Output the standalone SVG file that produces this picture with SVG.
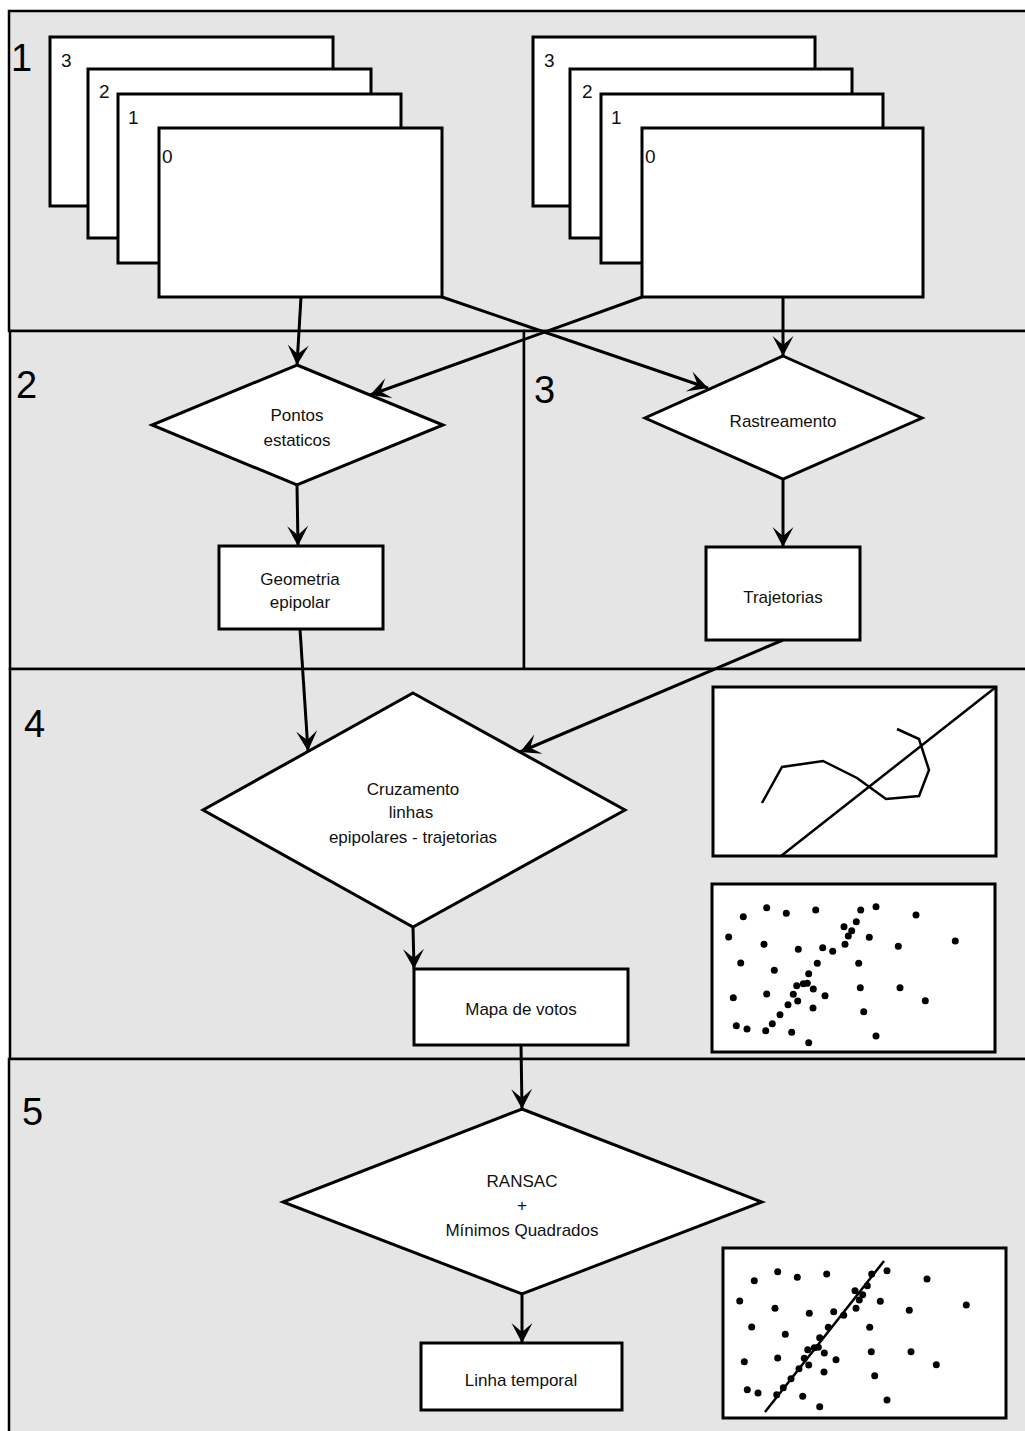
<svg xmlns="http://www.w3.org/2000/svg" xmlns:xlink="http://www.w3.org/1999/xlink" width="1025" height="1431" viewBox="0 0 1025 1431">
<style>
.sec{fill:#e5e5e5;stroke:#000;stroke-width:2.5}
.box{fill:#fff;stroke:#000;stroke-width:3}
.lbl{font-family:"Liberation Sans",Arial,sans-serif;font-size:17px;fill:#111;text-anchor:middle}
.dig{font-family:"Liberation Sans",Arial,sans-serif;font-size:19px;fill:#111}
.num{font-family:"Liberation Sans",Arial,sans-serif;font-size:38px;fill:#000}
.con{fill:none;stroke:#000;stroke-width:3}
.arr{fill:none;stroke:#000;stroke-width:3;marker-end:url(#ah)}
.pl{fill:none;stroke:#000;stroke-width:2.5}
</style>
<defs>
<marker id="ah" markerUnits="userSpaceOnUse" viewBox="-22 -12 24 24" refX="0" refY="0" markerWidth="24" markerHeight="24" orient="auto">
<path d="M0,0 L-20,-10.5 L-11,0 L-20,10.5 Z" fill="#000"/>
</marker>
<g id="dots" fill="#000">
<circle cx="766.7" cy="907.7" r="3.5"/><circle cx="786.3" cy="913.3" r="3.5"/><circle cx="815.7" cy="910" r="3.5"/><circle cx="860.7" cy="910" r="3.5"/><circle cx="876" cy="906.7" r="3.5"/><circle cx="743.3" cy="916.7" r="3.5"/><circle cx="916" cy="915" r="3.5"/><circle cx="856.3" cy="921.7" r="3.5"/><circle cx="844" cy="926.7" r="3.5"/><circle cx="851.7" cy="930.7" r="3.5"/><circle cx="848.3" cy="936" r="3.5"/><circle cx="728.7" cy="937" r="3.5"/><circle cx="869.3" cy="937.3" r="3.5"/><circle cx="764" cy="944.3" r="3.5"/><circle cx="845" cy="944.3" r="3.5"/><circle cx="898.3" cy="946.3" r="3.5"/><circle cx="955.3" cy="941" r="3.5"/><circle cx="798.3" cy="949.3" r="3.5"/><circle cx="822.7" cy="947.7" r="3.5"/><circle cx="832.7" cy="951.3" r="3.5"/><circle cx="740.7" cy="963" r="3.5"/><circle cx="817.3" cy="963.3" r="3.5"/><circle cx="858.7" cy="963.3" r="3.5"/><circle cx="774.3" cy="970.3" r="3.5"/><circle cx="808.7" cy="973.7" r="3.5"/><circle cx="796.7" cy="985.7" r="3.5"/><circle cx="803.3" cy="983.7" r="3.5"/><circle cx="807.3" cy="983.3" r="3.5"/><circle cx="813.3" cy="989" r="3.5"/><circle cx="860.3" cy="987.7" r="3.5"/><circle cx="900" cy="987.7" r="3.5"/><circle cx="733.3" cy="997.7" r="3.5"/><circle cx="766.7" cy="994" r="3.5"/><circle cx="793.3" cy="994.3" r="3.5"/><circle cx="825" cy="995.7" r="3.5"/><circle cx="797.7" cy="1001" r="3.5"/><circle cx="925.3" cy="1000.7" r="3.5"/><circle cx="788" cy="1004.7" r="3.5"/><circle cx="813" cy="1008" r="3.5"/><circle cx="863.7" cy="1011.7" r="3.5"/><circle cx="780" cy="1014.7" r="3.5"/><circle cx="736.3" cy="1025.7" r="3.5"/><circle cx="747" cy="1029" r="3.5"/><circle cx="772.3" cy="1023.7" r="3.5"/><circle cx="765.7" cy="1030.7" r="3.5"/><circle cx="791.7" cy="1032.3" r="3.5"/><circle cx="876" cy="1036" r="3.5"/><circle cx="808.7" cy="1042.7" r="3.5"/>
</g>
</defs>
<rect width="1025" height="1431" fill="#fff"/>

<g id="sections">
<rect class="sec" x="9" y="11" width="1030" height="320"/>
<rect class="sec" x="10" y="331" width="514" height="338"/>
<rect class="sec" x="524" y="331" width="515" height="338"/>
<rect class="sec" x="10" y="669" width="1029" height="390"/>
<rect class="sec" x="9" y="1059" width="1030" height="380"/>
<text class="num" x="11" y="71">1</text>
<text class="num" x="16" y="398">2</text>
<text class="num" x="534" y="403">3</text>
<text class="num" x="24" y="737">4</text>
<text class="num" x="22" y="1125">5</text>
</g>

<g id="frames-left">
<rect class="box" x="50" y="37" width="283" height="169"/>
<text class="dig" x="61" y="67">3</text>
<rect class="box" x="88" y="69" width="283" height="169"/>
<text class="dig" x="99" y="98">2</text>
<rect class="box" x="118" y="94" width="283" height="169"/>
<text class="dig" x="128" y="124">1</text>
<rect class="box" x="159" y="128" width="283" height="169"/>
<text class="dig" x="162" y="163">0</text>
</g>

<g id="frames-right">
<rect class="box" x="533" y="37" width="282" height="169"/>
<text class="dig" x="544" y="67">3</text>
<rect class="box" x="570" y="69" width="282" height="169"/>
<text class="dig" x="582" y="98">2</text>
<rect class="box" x="601" y="94" width="282" height="169"/>
<text class="dig" x="611" y="124">1</text>
<rect class="box" x="642" y="128" width="281" height="169"/>
<text class="dig" x="645" y="163">0</text>
</g>

<g id="pontos">
<polygon class="box" points="297,365 443,425 297,485 152,425"/>
<text class="lbl" x="297" y="421">Pontos</text>
<text class="lbl" x="297" y="446">estaticos</text>
</g>

<g id="rastreamento">
<polygon class="box" points="783,356 922,418 783,479 645,418"/>
<text class="lbl" x="783" y="427">Rastreamento</text>
</g>

<g id="geometria">
<rect class="box" x="219" y="546" width="164" height="83"/>
<text class="lbl" x="300" y="585">Geometria</text>
<text class="lbl" x="300" y="608">epipolar</text>
</g>

<g id="trajetorias">
<rect class="box" x="706" y="547" width="154" height="93"/>
<text class="lbl" x="783" y="603">Trajetorias</text>
</g>

<g id="cruzamento">
<polygon class="box" points="413,693 625,810 413,927 203,810"/>
<text class="lbl" x="413" y="795">Cruzamento</text>
<text class="lbl" x="411" y="818">linhas</text>
<text class="lbl" x="413" y="843">epipolares - trajetorias</text>
</g>

<g id="mapa">
<rect class="box" x="414" y="969" width="214" height="76"/>
<text class="lbl" x="521" y="1015">Mapa de votos</text>
</g>

<g id="ransac">
<polygon class="box" points="522,1109 762,1202 522,1294 283,1202"/>
<text class="lbl" x="522" y="1187">RANSAC</text>
<text class="lbl" x="522" y="1211">+</text>
<text class="lbl" x="522" y="1236">Mínimos Quadrados</text>
</g>

<g id="linha">
<rect class="box" x="421" y="1343" width="201" height="67"/>
<text class="lbl" x="521" y="1386">Linha temporal</text>
</g>

<g id="plot-trajetoria">
<rect class="box" x="713" y="687" width="283" height="169"/>
<line class="pl" x1="781" y1="856" x2="996" y2="687"/>
<polyline class="pl" points="762,803 782,767 823,761 857,778 886,799 919,796 929,770 919,739 897,729"/>
</g>

<g id="plot-votos">
<rect class="box" x="712" y="884" width="283" height="168"/>
<use xlink:href="#dots" href="#dots"/>
</g>

<g id="plot-ransac">
<rect class="box" x="723" y="1248" width="283" height="170"/>
<use xlink:href="#dots" href="#dots" transform="translate(11,364)"/>
<line class="pl" x1="765" y1="1412" x2="884" y2="1261"/>
</g>

<g id="connectors">
<line class="arr" x1="301" y1="297" x2="297" y2="365"/>
<line class="arr" x1="442" y1="297" x2="708" y2="388"/>
<line class="arr" x1="642" y1="297" x2="370" y2="395"/>
<line class="arr" x1="783" y1="297" x2="783" y2="356"/>
<line class="arr" x1="297" y1="485" x2="298" y2="546"/>
<line class="arr" x1="783" y1="479" x2="783" y2="547"/>
<line class="arr" x1="300" y1="629" x2="308" y2="751"/>
<line class="arr" x1="783" y1="640" x2="520" y2="752"/>
<line class="arr" x1="413" y1="927" x2="414" y2="969"/>
<line class="arr" x1="521" y1="1045" x2="522" y2="1109"/>
<line class="arr" x1="522" y1="1294" x2="522" y2="1343"/>
</g>
</svg>
